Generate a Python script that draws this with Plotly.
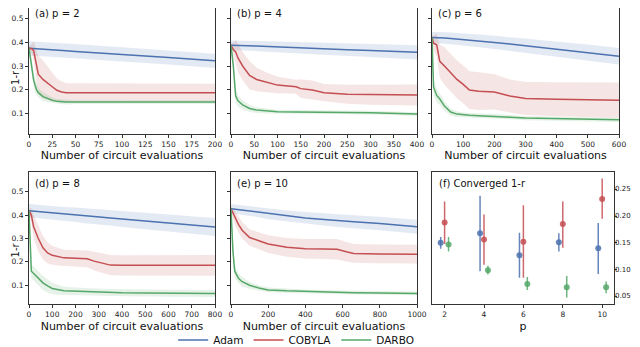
import plotly.graph_objects as go

# colours (seaborn deep palette)
BLUE = "#4C72B0"
RED = "#C44E52"
GREEN = "#55A868"

# ---- panel (a) p = 2 ----
a_x = [0, 3, 5, 8, 10, 15, 20, 25, 30, 35, 40, 50, 75, 100, 150, 200]
a_adam = [0.375, 0.374, 0.374, 0.373, 0.372, 0.371, 0.370, 0.368, 0.367, 0.366, 0.365, 0.362, 0.356, 0.349, 0.336, 0.322]
a_adam_w = [0.03] * 16
a_cobyla = [0.375, 0.373, 0.365, 0.30, 0.265, 0.243, 0.229, 0.212, 0.197, 0.190, 0.187, 0.187, 0.187, 0.187, 0.187, 0.187]
a_cobyla_w = [0.01, 0.02, 0.04, 0.07, 0.08, 0.08, 0.07, 0.06, 0.05, 0.045, 0.04, 0.04, 0.04, 0.04, 0.038, 0.038]
a_darbo = [0.375, 0.30, 0.24, 0.20, 0.187, 0.17, 0.162, 0.155, 0.150, 0.148, 0.147, 0.147, 0.147, 0.147, 0.147, 0.147]
a_darbo_w = [0.01, 0.03, 0.03, 0.025, 0.02, 0.02, 0.015, 0.012, 0.01, 0.01, 0.01, 0.008, 0.008, 0.008, 0.008, 0.008]

# ---- panel (b) p = 4 ----
b_x = [0, 5, 10, 15, 25, 40, 55, 80, 100, 140, 150, 175, 200, 250, 300, 400]
b_adam = [0.388, 0.388, 0.388, 0.387, 0.387, 0.386, 0.385, 0.383, 0.381, 0.378, 0.377, 0.375, 0.373, 0.369, 0.366, 0.358]
b_adam_w = [0.02, 0.02, 0.02, 0.02, 0.021, 0.021, 0.022, 0.022, 0.023, 0.024, 0.024, 0.025, 0.026, 0.027, 0.028, 0.03]
b_cobyla = [0.388, 0.37, 0.36, 0.334, 0.30, 0.26, 0.243, 0.229, 0.219, 0.212, 0.204, 0.198, 0.187, 0.18, 0.178, 0.177]
b_cobyla_w = [0.01, 0.03, 0.05, 0.06, 0.06, 0.06, 0.05, 0.04, 0.035, 0.03, 0.04, 0.04, 0.037, 0.04, 0.042, 0.045]
b_darbo = [0.388, 0.30, 0.173, 0.152, 0.135, 0.12, 0.113, 0.109, 0.106, 0.105, 0.105, 0.104, 0.104, 0.103, 0.102, 0.096]
b_darbo_w = [0.01, 0.03, 0.03, 0.025, 0.02, 0.015, 0.012, 0.01, 0.008, 0.008, 0.008, 0.008, 0.008, 0.008, 0.008, 0.008]

# ---- panel (c) p = 6 ----
c_x = [0, 5, 15, 25, 40, 60, 80, 100, 120, 150, 200, 250, 300, 400, 500, 600]
c_adam = [0.421, 0.421, 0.420, 0.420, 0.419, 0.417, 0.415, 0.413, 0.411, 0.407, 0.400, 0.393, 0.386, 0.372, 0.357, 0.341]
c_adam_w = [0.024, 0.024, 0.024, 0.024, 0.025, 0.025, 0.025, 0.026, 0.026, 0.027, 0.028, 0.029, 0.03, 0.032, 0.034, 0.035]
c_cobyla = [0.421, 0.397, 0.39, 0.32, 0.30, 0.271, 0.243, 0.222, 0.198, 0.193, 0.19, 0.173, 0.162, 0.159, 0.157, 0.155]
c_cobyla_w = [0.01, 0.03, 0.05, 0.07, 0.08, 0.08, 0.08, 0.08, 0.08, 0.08, 0.075, 0.07, 0.07, 0.072, 0.074, 0.075]
c_darbo = [0.421, 0.21, 0.175, 0.16, 0.13, 0.105, 0.096, 0.093, 0.091, 0.089, 0.087, 0.083, 0.079, 0.076, 0.074, 0.072]
c_darbo_w = [0.01, 0.03, 0.03, 0.025, 0.02, 0.015, 0.012, 0.01, 0.01, 0.01, 0.01, 0.009, 0.009, 0.009, 0.009, 0.009]

# ---- panel (d) p = 8 ----
d_x = [0, 10, 20, 40, 60, 80, 100, 150, 200, 250, 280, 350, 400, 500, 600, 800]
d_adam = [0.419, 0.418, 0.418, 0.416, 0.414, 0.412, 0.410, 0.405, 0.401, 0.396, 0.394, 0.388, 0.383, 0.374, 0.366, 0.349]
d_adam_w = [0.028, 0.028, 0.028, 0.029, 0.029, 0.029, 0.03, 0.03, 0.031, 0.032, 0.032, 0.033, 0.034, 0.035, 0.036, 0.039]
d_cobyla = [0.419, 0.40, 0.35, 0.30, 0.26, 0.238, 0.228, 0.217, 0.215, 0.213, 0.203, 0.186, 0.185, 0.185, 0.185, 0.185]
d_cobyla_w = [0.01, 0.03, 0.05, 0.055, 0.05, 0.045, 0.04, 0.035, 0.035, 0.036, 0.04, 0.043, 0.043, 0.044, 0.044, 0.044]
d_darbo = [0.419, 0.16, 0.15, 0.13, 0.11, 0.097, 0.086, 0.076, 0.074, 0.072, 0.071, 0.069, 0.068, 0.067, 0.066, 0.065]
d_darbo_w = [0.01, 0.03, 0.03, 0.03, 0.03, 0.028, 0.025, 0.018, 0.016, 0.015, 0.015, 0.015, 0.015, 0.015, 0.015, 0.015]

# ---- panel (e) p = 10 ----
e_x = [0, 10, 20, 40, 60, 100, 150, 200, 300, 400, 500, 570, 620, 660, 800, 1000]
e_adam = [0.427, 0.426, 0.425, 0.423, 0.421, 0.418, 0.413, 0.405, 0.396, 0.388, 0.381, 0.376, 0.373, 0.371, 0.364, 0.35]
e_adam_w = [0.02, 0.02, 0.02, 0.021, 0.021, 0.022, 0.022, 0.023, 0.024, 0.025, 0.026, 0.027, 0.027, 0.028, 0.029, 0.03]
e_cobyla = [0.427, 0.41, 0.39, 0.36, 0.335, 0.304, 0.29, 0.276, 0.262, 0.256, 0.255, 0.254, 0.243, 0.236, 0.234, 0.233]
e_cobyla_w = [0.01, 0.02, 0.03, 0.035, 0.035, 0.035, 0.037, 0.038, 0.04, 0.042, 0.043, 0.044, 0.042, 0.04, 0.04, 0.04]
e_darbo = [0.427, 0.25, 0.16, 0.13, 0.115, 0.10, 0.088, 0.08, 0.076, 0.073, 0.071, 0.07, 0.069, 0.068, 0.067, 0.065]
e_darbo_w = [0.01, 0.03, 0.025, 0.02, 0.02, 0.015, 0.012, 0.01, 0.009, 0.009, 0.008, 0.008, 0.008, 0.008, 0.008, 0.008]

# ---- panel (f) converged 1-r ----
f_p = [2, 4, 6, 8, 10]
f_adam = [0.150, 0.168, 0.127, 0.151, 0.140]
f_adam_lo = [0.139, 0.097, 0.085, 0.134, 0.092]
f_adam_hi = [0.161, 0.238, 0.169, 0.168, 0.187]
f_cobyla = [0.188, 0.156, 0.152, 0.185, 0.232]
f_cobyla_lo = [0.148, 0.109, 0.085, 0.141, 0.195]
f_cobyla_hi = [0.227, 0.203, 0.220, 0.227, 0.270]
f_darbo = [0.147, 0.099, 0.073, 0.067, 0.067]
f_darbo_lo = [0.134, 0.091, 0.062, 0.048, 0.056]
f_darbo_hi = [0.161, 0.107, 0.086, 0.088, 0.078]
f_yticks = [0.05, 0.10, 0.15, 0.20, 0.25]

FONT = "DejaVu Sans"
TICK = 7.5
TITLE = 11
LABEL = 10

panels = [
    ("(a) p = 2", a_x, [(a_adam, a_adam_w), (a_cobyla, a_cobyla_w), (a_darbo, a_darbo_w)], 25),
    ("(b) p = 4", b_x, [(b_adam, b_adam_w), (b_cobyla, b_cobyla_w), (b_darbo, b_darbo_w)], 50),
    ("(c) p = 6", c_x, [(c_adam, c_adam_w), (c_cobyla, c_cobyla_w), (c_darbo, c_darbo_w)], 100),
    ("(d) p = 8", d_x, [(d_adam, d_adam_w), (d_cobyla, d_cobyla_w), (d_darbo, d_darbo_w)], 100),
    ("(e) p = 10", e_x, [(e_adam, e_adam_w), (e_cobyla, e_cobyla_w), (e_darbo, e_darbo_w)], 200),
]

names = ["Adam", "COBYLA", "DARBO"]
colors = [BLUE, RED, GREEN]
fills = ["rgba(76,114,176,0.15)", "rgba(196,78,82,0.15)", "rgba(85,168,104,0.15)"]

# the page puts the figure 8px in from the top-left corner; positions below
# are in figure pixels (visible pixel minus 8)
W, H = 632, 347
cols_px = [(21, 207), (223, 409), (424, 611)]
f_cols_px = (424, 606)
rows_px = [(0, 127), (165, 299)]
yranges = [[0.012, 0.546], [0.018, 0.586]]

fig = go.Figure()
layout = {}


def dom_x(c):
    return [cols_px[c][0] / W, cols_px[c][1] / W]


def dom_y(r):
    return [1 - rows_px[r][1] / H, 1 - rows_px[r][0] / H]


axis_style = dict(showgrid=False, zeroline=False, showline=True, linecolor="#333",
                  linewidth=1, ticks="outside", ticklen=3, tickcolor="#333",
                  automargin=False,
                  tickfont=dict(family=FONT, size=TICK, color="#222"))

for i, (label, xs, series, dtick) in enumerate(panels):
    r, c = divmod(i, 3)
    n = i + 1
    xa = "x" if n == 1 else f"x{n}"
    ya = "y" if n == 1 else f"y{n}"
    for k, (mean, w) in enumerate(series):
        hi = [m + d for m, d in zip(mean, w)]
        lo = [m - d for m, d in zip(mean, w)]
        fig.add_trace(go.Scatter(x=xs, y=hi, mode="lines", line=dict(width=0),
                                 showlegend=False, hoverinfo="skip", xaxis=xa, yaxis=ya))
        fig.add_trace(go.Scatter(x=xs, y=lo, mode="lines", line=dict(width=0),
                                 fill="tonexty", fillcolor=fills[k],
                                 showlegend=False, hoverinfo="skip", xaxis=xa, yaxis=ya))
    for k, (mean, w) in enumerate(series):
        fig.add_trace(go.Scatter(x=xs, y=mean, mode="lines", name=names[k],
                                 line=dict(color=colors[k], width=1.5),
                                 showlegend=(i == 0), xaxis=xa, yaxis=ya))
    layout[f"xaxis{'' if n == 1 else n}"] = dict(
        axis_style, domain=dom_x(c), anchor=ya, range=[0, xs[-1]], dtick=dtick,
        mirror=(r == 1),
        title=dict(text="Number of circuit evaluations", standoff=3,
                   font=dict(family=FONT, size=TITLE, color="#111")))
    layout[f"yaxis{'' if n == 1 else n}"] = dict(
        axis_style, domain=dom_y(r), anchor=xa, range=yranges[r],
        tickvals=[0.1, 0.2, 0.3, 0.4, 0.5], mirror=True, showticklabels=(c == 0))
    height = rows_px[r][1] - rows_px[r][0]
    ly = 5.5 if r == 0 else 12
    fig.add_annotation(text=label, xref=f"{xa} domain", yref=f"{ya} domain",
                       x=0.02, y=1 - ly / height, xanchor="left", yanchor="middle",
                       showarrow=False, font=dict(family=FONT, size=LABEL, color="#111"))

# y titles, set between tick labels so they do not collide with them
for ypx in [70, 244]:
    fig.add_annotation(text="1-r", xref="paper", yref="paper", x=0, y=1 - ypx / H,
                       xanchor="left", yanchor="middle", textangle=-90, showarrow=False,
                       font=dict(family=FONT, size=10, color="#111"))

# panel (f)
off = [-0.2, 0.0, 0.2]
fvals = [(f_adam, f_adam_lo, f_adam_hi), (f_cobyla, f_cobyla_lo, f_cobyla_hi), (f_darbo, f_darbo_lo, f_darbo_hi)]
mcols = ["rgba(76,114,176,0.85)", "rgba(196,78,82,0.85)", "rgba(85,168,104,0.85)"]
for k, (v, lo, hi) in enumerate(fvals):
    fig.add_trace(go.Scatter(
        x=[p + off[k] for p in f_p], y=v, mode="markers", showlegend=False,
        marker=dict(color=mcols[k], size=6),
        error_y=dict(type="data", symmetric=False,
                     array=[h - m for h, m in zip(hi, v)],
                     arrayminus=[m - l for m, l in zip(v, lo)],
                     color=mcols[k], thickness=1.5, width=0),
        xaxis="x6", yaxis="y6"))
layout["xaxis6"] = dict(axis_style, domain=[f_cols_px[0] / W, f_cols_px[1] / W], anchor="y6",
                        range=[1.36, 10.6], tickvals=f_p, mirror=True,
                        title=dict(text="p", standoff=3, font=dict(family=FONT, size=TITLE, color="#111")))
layout["yaxis6"] = dict(axis_style, domain=dom_y(1), anchor="x6", range=[0.035, 0.283],
                        side="right", tickvals=f_yticks, showticklabels=False,
                        mirror=True, ticklen=2)
# right-hand tick labels as annotations so they stay clear of the page edge
for t in f_yticks:
    fig.add_annotation(text=f"{t:.2f}", xref="paper", yref="y6", x=624 / W, y=t,
                       xanchor="right", yanchor="middle", showarrow=False, borderpad=0,
                       font=dict(family=FONT, size=7, color="#222"))
fig.add_annotation(text="(f) Converged 1-r", xref="x6 domain", yref="y6 domain",
                   x=0.03, y=1 - 12 / 134, xanchor="left", yanchor="middle", showarrow=False,
                   font=dict(family=FONT, size=LABEL, color="#111"))

fig.update_layout(
    width=W, height=H, margin=dict(l=0, r=0, t=0, b=0),
    paper_bgcolor="white", plot_bgcolor="white",
    font=dict(family=FONT, size=10, color="#111"),
    legend=dict(orientation="h", x=0.456, xanchor="center", y=1 - 335 / H, yanchor="middle",
                traceorder="normal", font=dict(family=FONT, size=10.5, color="#111"),
                itemwidth=30, bgcolor="rgba(0,0,0,0)"),
    **layout,
)

fig.write_html("out.html")
